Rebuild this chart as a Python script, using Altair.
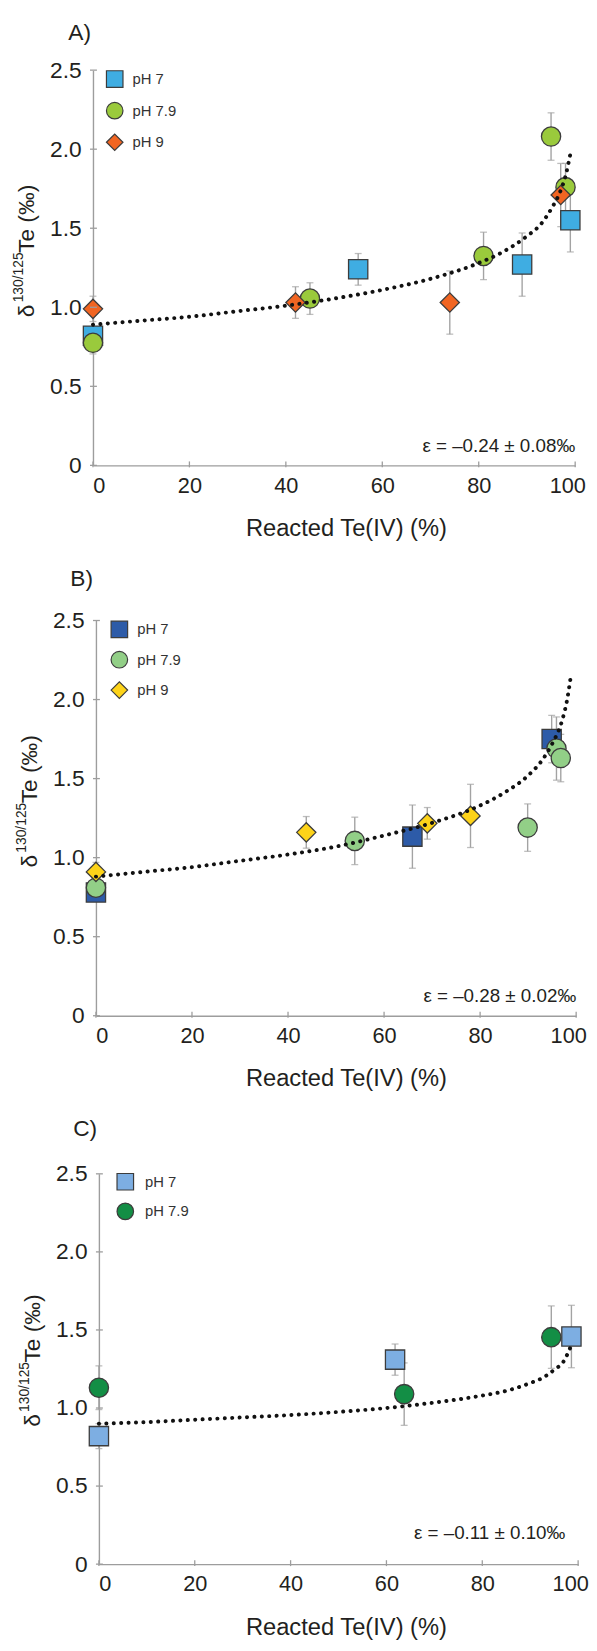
import altair as alt
import pandas as pd

FONT = "Liberation Sans"
INK = "#231f20"
AXIS_GREY = "#9d9d9d"
ERR_GREY = "#a3a3a3"
EDGE = "#3c3c3c"

# ---------------- shared texts / ticks ----------------
SERIES = ["pH 7", "pH 7.9", "pH 9"]
SHAPES = ["square", "circle", "diamond"]
X_TICKS = [0, 20, 40, 60, 80, 100]
Y_TICKS = [0, 0.5, 1.0, 1.5, 2.0, 2.5]
X_TITLE = "Reacted Te(IV) (%)"
Y_TITLE = ["δ", "130/125", "Te (‰)"]
PANEL_LABELS = ["A)", "B)", "C)"]
EPS_LABELS = ["ε = –0.24 ± 0.08‰", "ε = –0.28 ± 0.02‰", "ε = –0.11 ± 0.10‰"]

# ---------------- Panel A ----------------
A_COLORS = ["#3fade2", "#9aca3c", "#f16522"]
A_PH7_X = [0, 55, 89, 99]
A_PH7_Y = [0.82, 1.24, 1.27, 1.55]
A_PH7_E = [0.05, 0.10, 0.20, 0.20]
A_PH79_X = [0, 45, 81, 95, 98]
A_PH79_Y = [0.775, 1.055, 1.325, 2.08, 1.76]
A_PH79_E = [0.07, 0.10, 0.15, 0.15, 0.15]
A_PH9_X = [0, 42, 74, 97]
A_PH9_Y = [0.99, 1.03, 1.03, 1.71]
A_PH9_E = [0.08, 0.10, 0.20, 0.20]
A_FIT_X = [0, 10, 20, 30, 40, 50, 60, 70, 80, 85, 90, 93, 95, 97, 98, 99]
A_FIT_Y = [0.89, 0.915, 0.94, 0.975, 1.01, 1.055, 1.11, 1.18, 1.28, 1.35, 1.45, 1.53, 1.62, 1.74, 1.83, 1.97]

# ---------------- Panel B ----------------
B_COLORS = ["#2d5ba8", "#92cf87", "#fdd319"]
B_PH7_X = [0, 65.9, 94.9]
B_PH7_Y = [0.78, 1.133, 1.75]
B_PH7_E = [0.05, 0.20, 0.15]
B_PH79_X = [0, 53.9, 89.9, 95.9, 96.8]
B_PH79_Y = [0.81, 1.106, 1.19, 1.69, 1.63]
B_PH79_E = [0.05, 0.15, 0.15, 0.20, 0.15]
B_PH9_X = [0, 43.8, 69.0, 78.0]
B_PH9_Y = [0.91, 1.16, 1.217, 1.264]
B_PH9_E = [0.06, 0.10, 0.10, 0.20]
B_FIT_X = [0, 10, 20, 30, 40, 50, 60, 70, 80, 85, 90, 93, 95, 97, 98, 99]
B_FIT_Y = [0.88, 0.91, 0.94, 0.98, 1.02, 1.07, 1.14, 1.22, 1.33, 1.41, 1.52, 1.62, 1.72, 1.86, 1.98, 2.17]

# ---------------- Panel C ----------------
C_COLORS = ["#7daee2", "#138e45"]
C_PH7_X = [0, 61.8, 98.6]
C_PH7_Y = [0.82, 1.31, 1.458]
C_PH7_E = [0.08, 0.10, 0.20]
C_PH79_X = [0, 63.7, 94.4]
C_PH79_Y = [1.13, 1.089, 1.454]
C_PH79_E = [0.14, 0.20, 0.20]
C_FIT_X = [0, 10, 20, 30, 40, 50, 60, 70, 80, 85, 90, 93, 95, 97, 98.4]
C_FIT_Y = [0.90, 0.91, 0.925, 0.94, 0.955, 0.975, 1.0, 1.035, 1.08, 1.11, 1.16, 1.2, 1.245, 1.3, 1.39]


def text_layer(s, x, y, size, angle=0, align="left"):
    kw = dict(align=align, baseline="alphabetic", fontSize=size, font=FONT, color=INK)
    if angle:
        kw["angle"] = angle
    return alt.Chart(pd.DataFrame({"t": [s]})).mark_text(**kw).encode(
        x=alt.value(x), y=alt.value(y), text="t:N"
    )


def panel(idx, names, colors, groups, fit_x, fit_y, dx, x1, H, leg, ydy, eps_pos):
    rows = []
    for name, xs_, ys_, es_ in groups:
        for xv, yv, ev in zip(xs_, ys_, es_):
            rows.append({"s": name, "x": xv, "y": yv, "lo": yv - ev, "hi": yv + ev})
    df = pd.DataFrame(rows)

    xs = alt.Scale(domain=[0, 100], range=[dx, x1], nice=False, zero=False)
    ys = alt.Scale(domain=[0, 2.5], nice=False, zero=False)
    xax = alt.Axis(
        values=X_TICKS, ticks=False, tickSize=0, grid=False,
        domainColor=AXIS_GREY, domainWidth=1.4,
        labelFont=FONT, labelFontSize=22, labelColor=INK, labelPadding=10,
        labelOverlap=False, labelFlush=False,
        labelOffset={"condition": [{"test": "datum.value == 0", "value": 6},
                                   {"test": "datum.value == 100", "value": -8}],
                     "value": 0},
        title=X_TITLE, titleFont=FONT, titleFontSize=24, titleFontWeight="normal",
        titleColor=INK, titleX=256, titleY=71, titleBaseline="alphabetic",
        titleAlign="center",
    )
    yax = alt.Axis(
        values=Y_TICKS, ticks=False, tickSize=0, grid=False,
        domainColor=AXIS_GREY, domainWidth=1.4,
        labelFont=FONT, labelFontSize=23, labelColor=INK, labelPadding=12,
        labelExpr="datum.value == 0 ? '0' : format(datum.value, '.1f')",
        title=None, offset=-dx,
    )

    def X(f):
        return alt.X(f + ":Q", scale=xs, axis=xax)

    def Y(f):
        return alt.Y(f + ":Q", scale=ys, axis=yax)

    base = alt.Chart(df)
    err = base.mark_rule(color=ERR_GREY, strokeWidth=1.4).encode(x=X("x"), y=Y("lo"), y2="hi:Q")
    cap_lo = base.mark_tick(color=ERR_GREY, orient="horizontal", size=7, thickness=1.3).encode(x=X("x"), y=Y("lo"))
    cap_hi = base.mark_tick(color=ERR_GREY, orient="horizontal", size=7, thickness=1.3).encode(x=X("x"), y=Y("hi"))

    legend = alt.Legend(
        orient="none", legendX=leg[0], legendY=leg[1], title=None, padding=0,
        labelFont=FONT, labelFontSize=15, labelColor="#333333",
        symbolSize=280, symbolStrokeWidth=1.2,
        rowPadding=leg[2], labelOffset=leg[3],
    )
    n = len(names)
    pts = base.mark_point(filled=True, size=380, strokeWidth=1.3, opacity=1).encode(
        x=X("x"), y=Y("y"),
        fill=alt.Fill("s:N", scale=alt.Scale(domain=names, range=colors), legend=legend),
        shape=alt.Shape("s:N", scale=alt.Scale(domain=names, range=SHAPES[:n]), legend=legend),
        stroke=alt.Stroke("s:N", scale=alt.Scale(domain=names, range=[EDGE] * n), legend=legend),
    )

    fit = alt.Chart(pd.DataFrame({"x": fit_x, "y": fit_y})).mark_line(
        color="#111111", strokeWidth=4, strokeDash=[0.1, 7.4], strokeCap="round", interpolate="monotone"
    ).encode(x=X("x"), y=Y("y"))

    xt = alt.Chart(pd.DataFrame({"v": X_TICKS})).mark_rule(color=AXIS_GREY, strokeWidth=1.3).encode(
        x=X("v"), y=alt.value(H - 4), y2=alt.value(H + 2)
    )
    yt = alt.Chart(pd.DataFrame({"v": Y_TICKS})).mark_rule(color=AXIS_GREY, strokeWidth=1.3).encode(
        y=Y("v"), x=alt.value(dx - 3), x2=alt.value(dx + 4)
    )

    lab_pos = [(-25, -30), (-23, -35), (-20, -38)][idx]
    texts = [
        text_layer(PANEL_LABELS[idx], lab_pos[0], lab_pos[1], 23),
        text_layer(Y_TITLE[0], dx - 60, 250 + ydy, 23, angle=270),
        text_layer(Y_TITLE[1], dx - 71, 235 + ydy, 14, angle=270),
        text_layer(Y_TITLE[2], dx - 60, 185 + ydy, 23, angle=270),
        text_layer(EPS_LABELS[idx], eps_pos[0], eps_pos[1], 19, align="right"),
    ]
    return alt.layer(err, cap_lo, cap_hi, pts, fit, xt, yt, *texts).properties(width=492, height=H)


pA = panel(
    0, SERIES, A_COLORS,
    [(SERIES[0], A_PH7_X, A_PH7_Y, A_PH7_E),
     (SERIES[1], A_PH79_X, A_PH79_Y, A_PH79_E),
     (SERIES[2], A_PH9_X, A_PH9_Y, A_PH9_E)],
    A_FIT_X, A_FIT_Y, 0, 488, 400, (13, 0, 10, 9), 0, (488, 386),
)
pB = panel(
    1, SERIES, B_COLORS,
    [(SERIES[0], B_PH7_X, B_PH7_Y, B_PH7_E),
     (SERIES[1], B_PH79_X, B_PH79_Y, B_PH79_E),
     (SERIES[2], B_PH9_X, B_PH9_Y, B_PH9_E)],
    B_FIT_X, B_FIT_Y, 3, 489, 400, (17.7, 0, 8.7, 9), 0, (489, 386),
)
pC = panel(
    2, SERIES[:2], C_COLORS,
    [(SERIES[0], C_PH7_X, C_PH7_Y, C_PH7_E),
     (SERIES[1], C_PH79_X, C_PH79_Y, C_PH79_E)],
    C_FIT_X, C_FIT_Y, 6, 491, 395, (23.7, -1, 8, 11), 6, (478, 370),
)

chart = (
    alt.vconcat(pA, pB, pC, spacing=28)
    .resolve_scale(fill="independent", shape="independent", stroke="independent")
    .properties(padding={"left": 4, "top": 5, "right": 0, "bottom": 0})
    .configure_view(strokeWidth=0)
)

chart.save("out.html", embed_options={"renderer": "svg", "actions": False})
